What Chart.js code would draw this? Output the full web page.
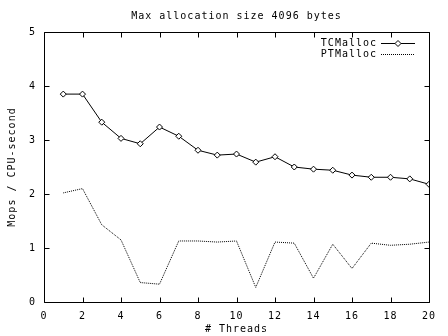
<!DOCTYPE html>
<html>
<head>
<meta charset="utf-8">
<script src="https://cdn.jsdelivr.net/npm/chart.js@4/dist/chart.umd.min.js"></script>
<style>
  html, body { margin: 0; padding: 0; background: #fff; }
  #wrap { width: 448px; height: 336px; }
</style>
</head>
<body>
<div id="wrap"><canvas id="c" width="448" height="336"></canvas></div>
<script>
// Thread counts and throughput (Mops per CPU-second) for each allocator
const threads = [1, 2, 3, 4, 5, 6, 7, 8, 9, 10, 11, 12, 13, 14, 15, 16, 17, 18, 19, 20];
const tcmalloc = [3.85, 3.85, 3.33, 3.03, 2.93, 3.24, 3.07, 2.81, 2.72, 2.74,
                  2.59, 2.69, 2.50, 2.46, 2.44, 2.35, 2.31, 2.31, 2.28, 2.18];
const ptmalloc = [2.02, 2.10, 1.43, 1.15, 0.36, 0.33, 1.13, 1.13, 1.11, 1.13,
                  0.27, 1.11, 1.09, 0.44, 1.07, 0.62, 1.09, 1.05, 1.07, 1.11];
const seriesNames = ["TCMalloc", "PTMalloc"];
const xTicks = [0, 2, 4, 6, 8, 10, 12, 14, 16, 18, 20];
const yTicks = [0, 1, 2, 3, 4, 5];
const titleText = "Max allocation size 4096 bytes";
const xTitle = "# Threads";
const yTitle = "Mops / CPU-second";

const MONO = "'DejaVu Sans Mono', 'Liberation Mono', monospace";
const FONT_SIZE = 10;

const toPoints = (vals) => vals.map((v, i) => ({ x: threads[i], y: v }));

// Wide, terminal-like lettering for every text on the canvas
const spacingPlugin = {
  id: 'spacing',
  beforeDraw(chart) { chart.ctx.letterSpacing = '1px'; }
};

// Title, frame, inward mirrored ticks, axis titles and key, drawn the gnuplot way
const framePlugin = {
  id: 'frame',
  afterDraw(chart) {
    const { ctx, chartArea: a, scales } = chart;
    const px = (v) => Math.round(v) + 0.5;
    const L = px(a.left), R = px(a.right), T = px(a.top), B = px(a.bottom);
    const tick = 5;
    ctx.save();
    ctx.strokeStyle = '#000';
    ctx.lineWidth = 1;
    ctx.setLineDash([]);
    ctx.beginPath();
    ctx.rect(L, T, R - L, B - T);
    xTicks.forEach(v => {
      const x = px(scales.x.getPixelForValue(v));
      ctx.moveTo(x, B); ctx.lineTo(x, B - tick);
      ctx.moveTo(x, T); ctx.lineTo(x, T + tick);
    });
    yTicks.forEach(v => {
      const y = px(scales.y.getPixelForValue(v));
      ctx.moveTo(L, y); ctx.lineTo(L + tick, y);
      ctx.moveTo(R, y); ctx.lineTo(R - tick, y);
    });
    ctx.stroke();

    ctx.fillStyle = '#000';
    ctx.font = FONT_SIZE + 'px ' + MONO;
    ctx.letterSpacing = '1px';
    ctx.textBaseline = 'middle';
    ctx.textAlign = 'center';
    const cx = (a.left + a.right) / 2;
    ctx.fillText(titleText, cx, 16);
    ctx.fillText(xTitle, cx, 329);
    ctx.save();
    ctx.translate(12, (a.top + a.bottom) / 2);
    ctx.rotate(-Math.PI / 2);
    ctx.fillText(yTitle, 0, 0);
    ctx.restore();

    // key in the upper right corner: label, then line sample
    const rows = [43, 54];
    chart.data.datasets.forEach((ds, i) => {
      const y = rows[i];
      ctx.textAlign = 'right';
      ctx.fillText(ds.label, 377, y);
      ctx.beginPath();
      ctx.setLineDash(ds.borderDash || []);
      ctx.lineWidth = ds.borderWidth;
      ctx.moveTo(381, y + 0.5);
      ctx.lineTo(415, y + 0.5);
      ctx.stroke();
      ctx.setLineDash([]);
      if (ds.pointRadius > 0) {
        const mx = 398, my = y + 0.5, r = ds.pointRadius;
        ctx.beginPath();
        ctx.moveTo(mx, my - r); ctx.lineTo(mx + r, my);
        ctx.lineTo(mx, my + r); ctx.lineTo(mx - r, my);
        ctx.closePath();
        ctx.fillStyle = '#fff';
        ctx.fill();
        ctx.stroke();
        ctx.fillStyle = '#000';
      }
    });
    ctx.restore();
  }
};

new Chart(document.getElementById('c'), {
  type: 'line',
  data: {
    datasets: [
      {
        label: seriesNames[0],
        data: toPoints(tcmalloc),
        borderColor: '#000',
        borderWidth: 1,
        pointStyle: 'rectRot',
        pointRadius: 3,
        pointBorderWidth: 1,
        pointBorderColor: '#000',
        pointBackgroundColor: '#fff',
        tension: 0
      },
      {
        label: seriesNames[1],
        data: toPoints(ptmalloc),
        borderColor: '#000',
        borderWidth: 1,
        borderDash: [1, 1],
        pointRadius: 0,
        tension: 0
      }
    ]
  },
  options: {
    responsive: false,
    animation: false,
    events: [],
    layout: { padding: { left: 0, right: 19, top: 32, bottom: 0 } },
    plugins: {
      legend: { display: false },
      tooltip: { enabled: false },
      title: { display: false }
    },
    scales: {
      x: {
        type: 'linear',
        min: 0,
        max: 20,
        afterBuildTicks(scale) { scale.ticks = xTicks.map(v => ({ value: v })); },
        afterFit(scale) { scale.height = 34; },
        grid: { display: false, drawTicks: false },
        border: { display: false },
        ticks: {
          color: '#000',
          padding: 8,
          maxRotation: 0,
          autoSkip: false,
          font: { family: MONO, size: FONT_SIZE }
        }
      },
      y: {
        type: 'linear',
        min: 0,
        max: 5,
        afterBuildTicks(scale) { scale.ticks = yTicks.map(v => ({ value: v })); },
        afterFit(scale) { scale.width = 44; },
        grid: { display: false, drawTicks: false },
        border: { display: false },
        ticks: {
          color: '#000',
          padding: 8,
          autoSkip: false,
          font: { family: MONO, size: FONT_SIZE }
        }
      }
    }
  },
  plugins: [spacingPlugin, framePlugin]
});
</script>
</body>
</html>
